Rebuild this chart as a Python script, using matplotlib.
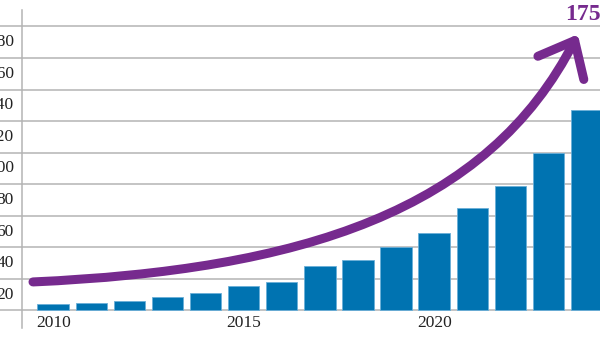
import numpy
import matplotlib
matplotlib.use('Agg')
import matplotlib.pyplot as plt
from matplotlib.path import Path
from matplotlib.patches import FancyArrowPatch

###########################################################################################################################
#Chart data
years = [2010, 2011, 2012, 2013, 2014, 2015, 2016, 2017, 2018, 2019, 2020, 2021, 2022, 2023, 2024]
values = [4.1, 4.9, 6.2, 8.4, 11.3, 15.5, 18.3, 28.2, 32, 40, 49, 65, 79, 100, 127]
target = 175
yTicks = [0, 20, 40, 60, 80, 100, 120, 140, 160, 180]
xLabels = [2010, 2015, 2020]

#Arrow curve (cubic bezier) control points, year / value
arrowX = [2009.47, 2016.48, 2021.41, 2023.77]
arrowY = [18.1, 25.7, 62.4, target]

###########################################################################################################################
barColor = '#0073B1'
purple = '#762A8E'
gridColor = '#B4B4B4'
plt.rcParams['font.family'] = ['Liberation Serif', 'DejaVu Serif']

fig = plt.figure(figsize=(6, 3.38), dpi=100)
ax = fig.add_axes([0, 0, 1, 1])
ax.set_xlim(2008.604, 2024.352)
ax.set_ylim(-17.43, 196.77)
ax.axis('off')

#Gridlines run the full width, labels hang below each line
for v in yTicks:
	ax.axhline(v, color=gridColor, lw=1.1, zorder=1)
	if v > 0:
		ax.text(2008.971, v - 10, str(v), ha='right', va='center', fontsize=12.5, color='#222222')

#Vertical axis line
ax.plot([2009.181, 2009.181], [-11.1, 190.4], color=gridColor, lw=1.1, zorder=1)

#Bars
ax.bar(years, values, width=0.824, color=barColor, edgecolor='#6AAFD8', linewidth=0.6, zorder=2)

#Year labels
for y in xLabels:
	ax.text(y, -7.9, str(y), ha='center', va='center', fontsize=12.5, color='#222222')

#Growth arrow
arrowPath = Path(list(zip(arrowX, arrowY)), [Path.MOVETO, Path.CURVE4, Path.CURVE4, Path.CURVE4])
arrow = FancyArrowPatch(path=arrowPath, arrowstyle='->,head_length=22,head_width=18.5',
						color=purple, lw=6.5, capstyle='round', joinstyle='round', zorder=3)
ax.add_patch(arrow)

#Target label
ax.text(2023.433, 187.3, str(target), ha='left', va='center', fontsize=17, fontweight='bold', color=purple)

fig.savefig('out.png', dpi=100)
